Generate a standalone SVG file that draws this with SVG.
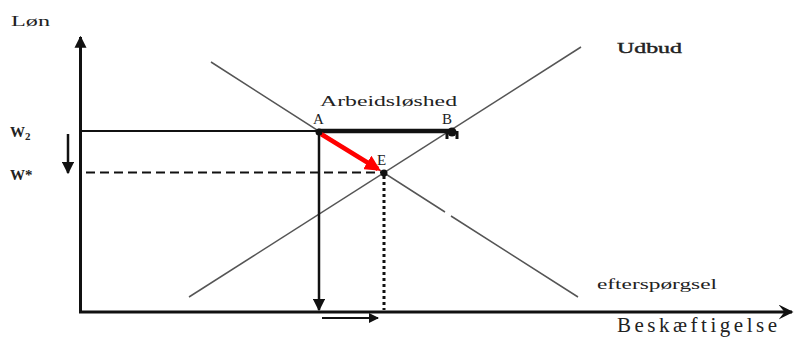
<svg xmlns="http://www.w3.org/2000/svg" width="795" height="338" viewBox="0 0 795 338">
<defs>
<style>
text{font-family:"Liberation Serif","Times New Roman",serif;fill:#222}
.axis{stroke:#111;stroke-width:3;fill:none}
.curve{stroke:#555;stroke-width:1.5;fill:none}
.blk{stroke:#111;fill:none}
</style>
<marker id="ah" viewBox="0 0 10 10" refX="9" refY="5" markerWidth="5" markerHeight="5" orient="auto" markerUnits="strokeWidth"><path d="M0,0L10,5L0,10z" fill="#111"/></marker>
<marker id="ahy" viewBox="0 0 10 10" refX="9" refY="5" markerWidth="4" markerHeight="6.5" orient="auto" markerUnits="strokeWidth"><path d="M0,0L10,5L0,10z" fill="#111"/></marker>
<marker id="ah2" viewBox="0 0 10 10" refX="9" refY="5" markerWidth="5" markerHeight="5" orient="auto" markerUnits="strokeWidth"><path d="M0,0L10,5L0,10L4,5z" fill="#111"/></marker>
<marker id="ahr" viewBox="0 0 10 10" refX="8" refY="5" markerWidth="3.5" markerHeight="3.5" orient="auto" markerUnits="strokeWidth"><path d="M0,0L10,5L0,10z" fill="#f00"/></marker>
</defs>
<rect width="795" height="338" fill="#fff"/>
<g id="connectors">
<path class="axis" d="M80.5,312V37" marker-end="url(#ahy)"/>
<path class="axis" d="M79,312H792" stroke-width="2" marker-end="url(#ah2)"/>
<path class="curve" d="M189,297L581,47"/>
<path class="curve" d="M211,62L445,212M451,216L578,297"/>
<path class="blk" stroke-width="2" d="M80,131H318"/>
<path class="blk" stroke-width="4.5" d="M318,131H452"/>
<path class="blk" stroke-width="3" d="M447,131V139M457,131V139"/>
<path class="blk" stroke-width="2" stroke-dasharray="9,5" d="M86,172.5H384"/>
<path class="blk" stroke-width="2.5" d="M319,133V310" marker-end="url(#ah)"/>
<path class="blk" stroke-width="3" stroke-dasharray="3,3" d="M384,176V310"/>
<path class="blk" stroke-width="2" d="M322,318H378" marker-end="url(#ah)"/>
<path class="blk" stroke-width="2.5" d="M68,134V173" marker-end="url(#ah)"/>
<path stroke="#f00" stroke-width="4.5" fill="none" d="M321,134L378,169" marker-end="url(#ahr)"/>
<circle cx="319" cy="132" r="3.5" fill="#111"/>
<circle cx="384" cy="173" r="3.5" fill="#111"/>
<circle cx="452" cy="132" r="4.5" fill="#111"/>
</g>
<g id="labels">
<text x="11" y="26" font-size="15" textLength="39" lengthAdjust="spacingAndGlyphs">Løn</text>
<text x="10" y="137" font-size="15" font-weight="bold">W<tspan font-size="11" dy="3">2</tspan></text>
<text x="10" y="180" font-size="15" font-weight="bold">W*</text>
<text x="320" y="106" font-size="15" textLength="137" lengthAdjust="spacingAndGlyphs">Arbeidsløshed</text>
<text x="313" y="124" font-size="15">A</text>
<text x="442" y="124" font-size="15">B</text>
<text x="377" y="165" font-size="15">E</text>
<text x="617" y="53" font-size="15" textLength="65" lengthAdjust="spacingAndGlyphs" stroke="#222" stroke-width="0.4">Udbud</text>
<text x="597" y="289" font-size="14" textLength="120" lengthAdjust="spacingAndGlyphs">efterspørgsel</text>
<text x="617" y="332" font-size="21" textLength="160" lengthAdjust="spacing">Beskæftigelse</text>
</g>
</svg>
